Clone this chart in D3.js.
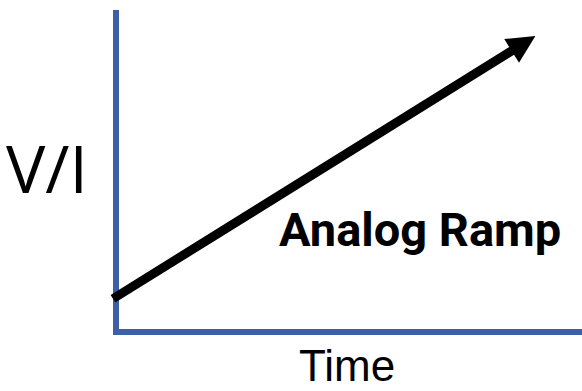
<!DOCTYPE html>
<html>
<head>
<meta charset="utf-8">
<script src="https://cdn.jsdelivr.net/npm/d3@7"></script>
<style>
  html, body { margin: 0; padding: 0; background: #ffffff; }
  svg { display: block; }
</style>
</head>
<body>
<svg id="chart" width="582" height="391"></svg>
<script>
// Ramp: time runs 0..1, signal level (V/I) 0..1
const rampTimes = [0, 0.9];
const rampLevels = [0.109, 0.919];
const axisLabels = { y: "V/I", x: "Time" };
const rampLabel = "Analog Ramp";

const svg = d3.select("#chart");

const x = d3.scaleLinear().domain([0, 1]).range([116, 582]);
const y = d3.scaleLinear().domain([0, 1]).range([332, 10]);

const axisColor = "#3c5fa7";

// axes: plain blue lines with no ticks
svg.append("line")
  .attr("x1", x(0)).attr("x2", x(0))
  .attr("y1", y(1)).attr("y2", y(0) + 3)
  .attr("stroke", axisColor).attr("stroke-width", 6);
svg.append("line")
  .attr("x1", x(0) - 3).attr("x2", x(1))
  .attr("y1", y(0)).attr("y2", y(0))
  .attr("stroke", axisColor).attr("stroke-width", 6);

// ramp line with arrowhead
const pts = rampTimes.map((t, i) => [x(t), y(rampLevels[i])]);
const [p0, p1] = pts;
const ang = Math.atan2(p1[1] - p0[1], p1[0] - p0[0]);
const headLen = 28, headHalf = 14;
const bx = p1[0] - headLen * Math.cos(ang), by = p1[1] - headLen * Math.sin(ang);

svg.append("line")
  .attr("x1", p0[0] - 3).attr("y1", p0[1] + 3 * Math.tan(-ang))
  .attr("x2", bx + 2 * Math.cos(ang)).attr("y2", by + 2 * Math.sin(ang))
  .attr("stroke", "#000").attr("stroke-width", 9);

svg.append("path")
  .attr("d", d3.line()([
    p1,
    [bx - headHalf * Math.sin(ang), by + headHalf * Math.cos(ang)],
    [bx + headHalf * Math.sin(ang), by - headHalf * Math.cos(ang)]
  ]) + "Z")
  .attr("fill", "#000");

// labels
svg.append("text")
  .attr("x", 6).attr("y", 193)
  .attr("font-family", "'Open Sans', sans-serif")
  .attr("font-size", 66)
  .attr("fill", "#000")
  .text(axisLabels.y);

svg.append("text")
  .attr("x", 299).attr("y", 381)
  .attr("font-family", "'Liberation Sans', sans-serif")
  .attr("font-size", 44)
  .attr("fill", "#000")
  .text(axisLabels.x);

svg.append("text")
  .attr("x", 279).attr("y", 246)
  .attr("font-family", "Roboto, sans-serif")
  .attr("font-weight", "bold")
  .attr("font-size", 47)
  .attr("fill", "#000")
  .text(rampLabel);
</script>
</body>
</html>
